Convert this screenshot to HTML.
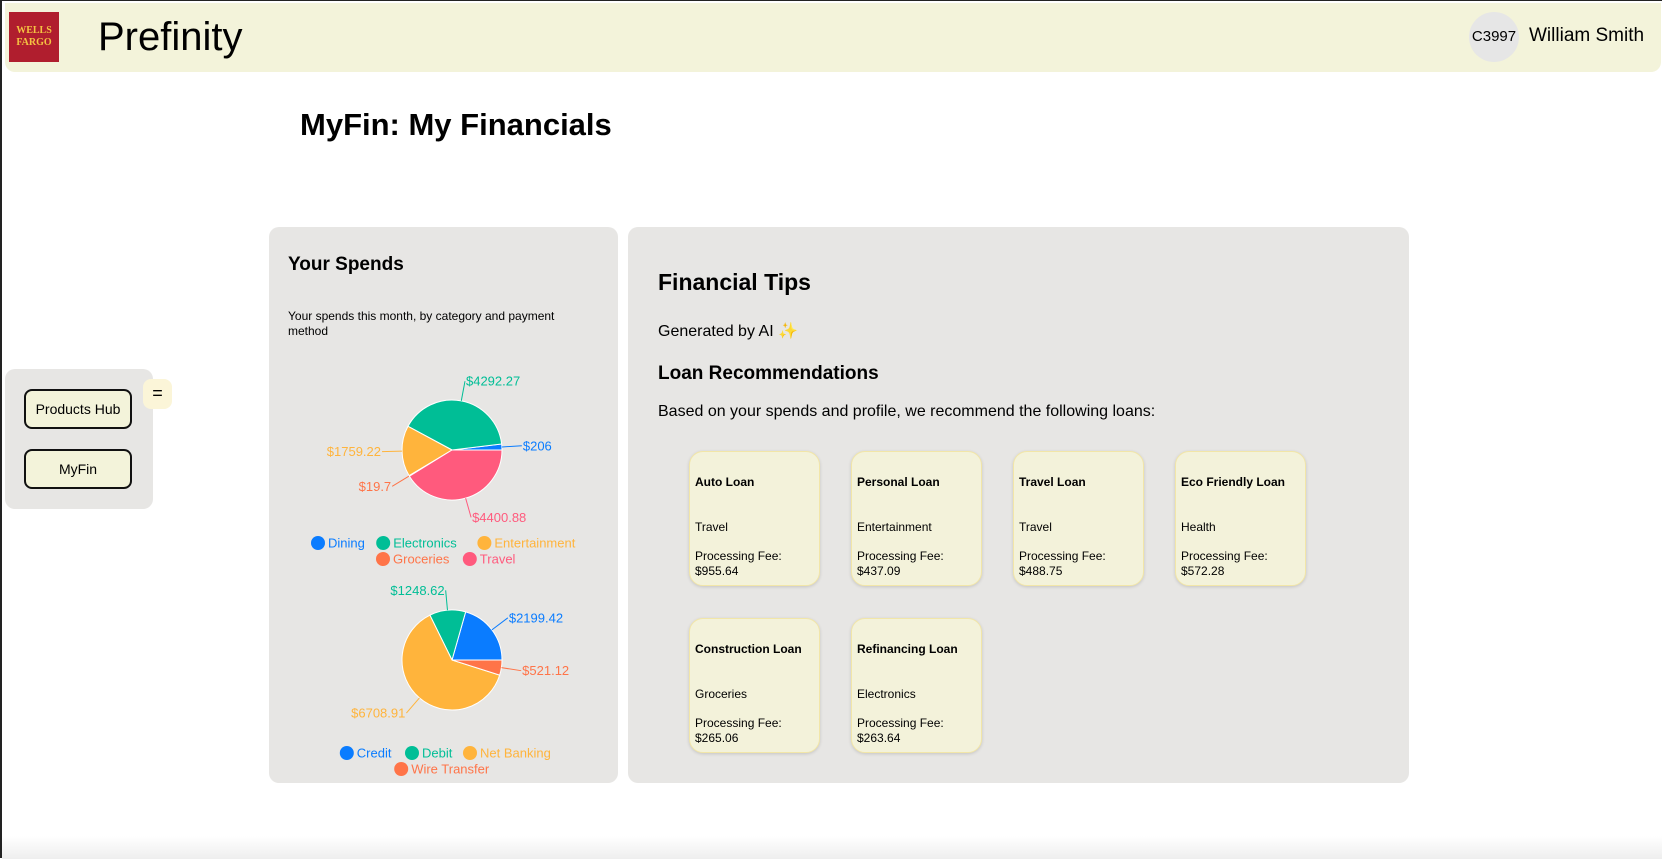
<!DOCTYPE html>
<html><head><meta charset="utf-8">
<style>
*{box-sizing:border-box;margin:0;padding:0}
body{width:1662px;height:858px;overflow:hidden;background:#fff;font-family:"Liberation Sans",sans-serif;position:relative;border-left:2px solid #222;border-top:1px solid #222}
.abs{position:absolute}
#header{left:3px;top:2px;width:1656px;height:69px;background:#F3F3DA;border-radius:0 0 10px 10px}
#logo{left:7px;top:11px;width:50px;height:50px;background:#B01E2E;color:#F5C342;font-family:"Liberation Serif",serif;font-size:10px;font-weight:bold;text-align:center;line-height:12px;padding-top:13px}
#brand{left:96px;top:14px;font-size:40px;color:#000}
#avatar{left:1467px;top:11px;width:50px;height:50px;border-radius:50%;background:#E6E6E6;font-size:15px;text-align:center;line-height:50px}
#uname{left:1527px;top:24px;font-size:19px}
#title{left:298px;top:106px;font-size:31px;font-weight:bold}
#side{left:3px;top:368px;width:148px;height:140px;background:#E7E6E4;border-radius:10px}
.sbtn{left:22px;width:108px;height:40px;border:2px solid #111;border-radius:8px;background:#F3F3DA;font-size:14px;text-align:center;line-height:36px;white-space:nowrap}
#eq{left:141px;top:378px;width:29px;height:30px;background:#FBF5D8;border-radius:8px;text-align:center;line-height:28px;font-size:18px}
.panel{background:#E7E6E4;border-radius:10px;top:226px;height:556px}
#lp{left:267px;width:349px}
#rp{left:626px;width:781px}
.card{width:131px;height:135px;background:#F3F2DA;border:1px solid #F2E6A8;border-radius:14px;box-shadow:0 1px 3px rgba(0,0,0,.15);font-size:12px;padding-left:5px}
.card b{position:absolute;left:5px;top:23px;font-size:12px}
.card .c{position:absolute;left:5px;top:68px}
.card .f{position:absolute;left:5px;top:97px;line-height:15px}
#shadow{left:0;top:835px;width:1662px;height:23px;background:linear-gradient(#fff,#eee)}
</style></head><body>
<div id="header" class="abs"></div>
<div id="logo" class="abs">WELLS<br>FARGO</div>
<div id="brand" class="abs">Prefinity</div>
<div id="avatar" class="abs">C3997</div>
<div id="uname" class="abs">William Smith</div>
<div id="title" class="abs">MyFin: My Financials</div>
<div id="side" class="abs"></div>
<div class="abs sbtn" style="top:388px">Products Hub</div>
<div class="abs sbtn" style="top:448px">MyFin</div>
<div id="eq" class="abs">=</div>

<div id="lp" class="abs panel"></div>
<div class="abs" style="left:286px;top:253px;font-size:19px;font-weight:bold">Your Spends</div>
<div class="abs" style="left:286px;top:308px;font-size:12px;line-height:15px;width:300px">Your spends this month, by category and payment method</div>
<svg class="abs" style="left:267px;top:226px" width="349" height="556" id="pies"></svg>

<div id="rp" class="abs panel"></div>
<div class="abs" style="left:656px;top:268px;font-size:23px;font-weight:bold">Financial Tips</div>
<div class="abs" style="left:656px;top:320px;font-size:16px">Generated by AI <span style="color:#F0C020">✨</span></div>
<div class="abs" style="left:656px;top:362px;font-size:19px;font-weight:bold">Loan Recommendations</div>
<div class="abs" style="left:656px;top:402px;font-size:16px">Based on your spends and profile, we recommend the following loans:</div>

<div class="abs card" style="left:687px;top:450px"><b>Auto Loan</b><span class="c">Travel</span><span class="f">Processing Fee:<br>$955.64</span></div>
<div class="abs card" style="left:849px;top:450px"><b>Personal Loan</b><span class="c">Entertainment</span><span class="f">Processing Fee:<br>$437.09</span></div>
<div class="abs card" style="left:1011px;top:450px"><b>Travel Loan</b><span class="c">Travel</span><span class="f">Processing Fee:<br>$488.75</span></div>
<div class="abs card" style="left:1173px;top:450px"><b>Eco Friendly Loan</b><span class="c">Health</span><span class="f">Processing Fee:<br>$572.28</span></div>
<div class="abs card" style="left:687px;top:617px"><b>Construction Loan</b><span class="c">Groceries</span><span class="f">Processing Fee:<br>$265.06</span></div>
<div class="abs card" style="left:849px;top:617px"><b>Refinancing Loan</b><span class="c">Electronics</span><span class="f">Processing Fee:<br>$263.64</span></div>
<div id="shadow" class="abs"></div>

<script>
const catLabels=["Dining","Electronics","Entertainment","Groceries","Travel"];
const catValues=[206,4292.27,1759.22,19.7,4400.88];
const catColors=["#0A7CFF","#00BE96","#FFB43C","#FF7448","#FF5A7D"];
const payLabels=["Credit","Debit","Net Banking","Wire Transfer"];
const payValues=[2199.42,1248.62,6708.91,521.12];
const payColors=["#0A7CFF","#00BE96","#FFB43C","#FF7448"];
const NS="http://www.w3.org/2000/svg";
const svg=document.getElementById('pies');
function mk(t,a){const e=document.createElementNS(NS,t);for(const k in a)e.setAttribute(k,a[k]);svg.appendChild(e);return e;}
function pie(vals,cols,cx,cy,r,pref){
  const tot=vals.reduce((a,b)=>a+b,0);let a0=0;
  vals.forEach((v,i)=>{
    const a1=a0+v/tot*2*Math.PI;
    const p=(a)=>[cx+r*Math.cos(a),cy-r*Math.sin(a)];
    const [x0,y0]=p(a0),[x1,y1]=p(a1);
    const large=(a1-a0)>Math.PI?1:0;
    const s=mk('path',{d:`M${cx},${cy}L${x0},${y0}A${r},${r} 0 ${large} 0 ${x1},${y1}Z`,fill:cols[i],stroke:'#fff','stroke-width':1});
    
    
    const m=(a0+a1)/2,c=Math.cos(m),sn=Math.sin(m);
    const ln=mk('path',{d:`M${cx+r*c},${cy-r*sn}L${cx+(r+20)*c},${cy-(r+20)*sn}`,stroke:cols[i],fill:'none'});
    
    
    const t=mk('text',{x:cx+(r+20)*c+(c>=0?1:-1),y:cy-(r+20)*sn,fill:cols[i],'font-size':13,'text-anchor':c>=0?'start':'end','dominant-baseline':'central','font-family':'Liberation Sans, sans-serif'});
    t.textContent='$'+v;
    
    
    a0=a1;
  });
}
function legend(labels,cols,rows,cy,pref){
  let idx=0;
  rows.forEach((n,ri)=>{
    const items=labels.slice(idx,idx+n).map((l,j)=>({l,c:cols[idx+j]}));idx+=n;
    const widths=items.map(it=>it.l.length*7.2+22);
    const total=widths.reduce((a,b)=>a+b,0);
    let x=183-total/2;const y=cy+ri*16;
    items.forEach((it,j)=>{
      const c=mk('circle',{cx:x+7,cy:y,r:7,fill:it.c});
      
      
      const t=mk('text',{x:x+17,y:y,fill:it.c,'font-size':13,'dominant-baseline':'central','font-family':'Liberation Sans, sans-serif'});
      t.textContent=it.l;
      
      
      x+=widths[j];
    });
  });
}
pie(catValues,catColors,183,223,50,'category');
legend(catLabels,catColors,[3,2],316,'category');
pie(payValues,payColors,183,433,50,'payment');
legend(payLabels,payColors,[3,1],526,'payment');
</script>
</body></html>
